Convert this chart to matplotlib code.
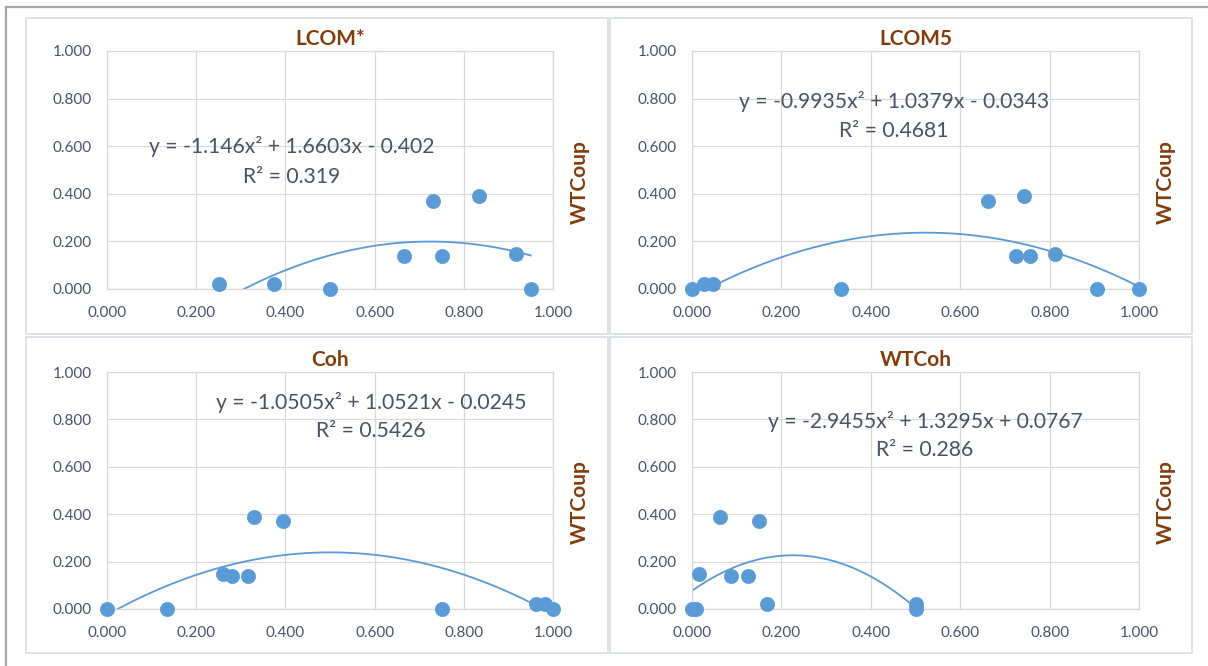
import numpy as np
import matplotlib
matplotlib.use("Agg")
import matplotlib.pyplot as plt
from matplotlib.patches import Rectangle
from matplotlib.lines import Line2D

plt.rcParams['font.family'] = ['Lato', 'DejaVu Sans']

# ---- data ----
titles = ["LCOM*", "LCOM5", "Coh", "WTCoh"]
y_label = "WTCoup"

lcomstar_x = [0.250, 0.375, 0.500, 0.667, 0.730, 0.750, 0.833, 0.917, 0.950]
lcomstar_y = [0.020, 0.020, 0.000, 0.140, 0.370, 0.140, 0.390, 0.147, 0.000]

lcom5_x = [0.000, 0.026, 0.047, 0.333, 0.662, 0.725, 0.742, 0.756, 0.812, 0.906, 1.000]
lcom5_y = [0.000, 0.020, 0.020, 0.000, 0.370, 0.140, 0.390, 0.140, 0.147, 0.000, 0.000]

coh_x = [0.000, 0.135, 0.261, 0.280, 0.317, 0.330, 0.394, 0.750, 0.962, 0.983, 1.000]
coh_y = [0.000, 0.000, 0.149, 0.140, 0.140, 0.390, 0.370, 0.000, 0.020, 0.020, 0.000]

wtcoh_x = [0.000, 0.009, 0.015, 0.063, 0.088, 0.126, 0.149, 0.167, 0.500, 0.500]
wtcoh_y = [0.000, 0.000, 0.149, 0.390, 0.140, 0.140, 0.370, 0.020, 0.020, 0.000]

# polynomial trendline coefficients (a, b, c) for y = a x^2 + b x + c
lcomstar_fit = [-1.146, 1.6603, -0.402]
lcom5_fit = [-0.9935, 1.0379, -0.0343]
coh_fit = [-1.0505, 1.0521, -0.0245]
wtcoh_fit = [-2.9455, 1.3295, 0.0767]

equations = [
    "y = -1.146x\u00b2 + 1.6603x - 0.402",
    "y = -0.9935x\u00b2 + 1.0379x - 0.0343",
    "y = -1.0505x\u00b2 + 1.0521x - 0.0245",
    "y = -2.9455x\u00b2 + 1.3295x + 0.0767",
]
r2_labels = ["R\u00b2 = 0.319", "R\u00b2 = 0.4681", "R\u00b2 = 0.5426", "R\u00b2 = 0.286"]

ticks = [0.0, 0.2, 0.4, 0.6, 0.8, 1.0]
tick_labels = ["0.000", "0.200", "0.400", "0.600", "0.800", "1.000"]

# ---- styling ----
W, H = 1208, 666
BLUE = "#5B9BD5"
GRID = "#D9D9D9"
TXT = "#475467"
BROWN = "#843C0C"
PANEL_EDGE = "#D9DEE5"

fig = plt.figure(figsize=(W / 100, H / 100), dpi=100)

def fx(px):
    return px / W

def fy(py):
    return 1 - py / H

# outer border lines (top and left)
fig.add_artist(Line2D([fx(6), 1.0], [fy(7), fy(7)], color="#A6A6A6", lw=1.6))
fig.add_artist(Line2D([fx(6), fx(6)], [fy(7), 0.0], color="#A6A6A6", lw=1.6))

# panel frames (px boxes: left, top, right, bottom)
frames = [(26, 18, 608, 334), (610, 18, 1192, 334), (26, 337, 608, 653), (610, 337, 1192, 653)]
for (l, t, r, b) in frames:
    fig.add_artist(Rectangle((fx(l), fy(b)), fx(r - l), (b - t) / H, transform=fig.transFigure,
                             fill=False, edgecolor=PANEL_EDGE, lw=1.3))

# axes boxes in px: left, top, right, bottom
axes_px = [(107, 51, 553, 289), (692, 51, 1139, 289), (107, 372, 553, 609), (692, 372, 1139, 609)]
eq_pos = [(0.415, 0.597, 0.471), (0.452, 0.786, 0.664), (0.592, 0.873, 0.751), (0.521, 0.793, 0.671)]

xs = [lcomstar_x, lcom5_x, coh_x, wtcoh_x]
ys = [lcomstar_y, lcom5_y, coh_y, wtcoh_y]
fits = [lcomstar_fit, lcom5_fit, coh_fit, wtcoh_fit]

for i in range(4):
    l, t, r, b = axes_px[i]
    ax = fig.add_axes([fx(l), fy(b), (r - l) / W, (b - t) / H])
    ax.set_xlim(0, 1)
    ax.set_ylim(0, 1)
    ax.set_xticks(ticks)
    ax.set_yticks(ticks)
    ax.set_xticklabels(tick_labels)
    ax.set_yticklabels(tick_labels)
    ax.tick_params(length=0, labelsize=11, labelcolor=TXT)
    ax.tick_params(axis="y", pad=11)
    ax.tick_params(axis="x", pad=12)
    ax.grid(True, color=GRID, lw=0.9)
    ax.set_axisbelow(True)
    for s in ax.spines.values():
        s.set_color(GRID)
        s.set_linewidth(0.9)
    ax.patch.set_alpha(0)

    # trendline over data range
    a, bb, c = fits[i]
    xx = np.linspace(min(xs[i]), max(xs[i]), 400)
    yy = a * xx ** 2 + bb * xx + c
    ax.plot(xx, yy, color=BLUE, lw=1.3, zorder=2)

    ax.scatter(xs[i], ys[i], s=105, color=BLUE, edgecolors=BLUE, linewidths=0.5,
               zorder=3, clip_on=False)

    ax.set_title(titles[i], color=BROWN, fontweight="bold", fontsize=15, pad=4)

    ex, ey, ry = eq_pos[i]
    ax.text(ex, ey, equations[i], transform=ax.transAxes, ha="center", va="center",
            fontsize=15.2, color=TXT)
    ax.text(ex, ry, r2_labels[i], transform=ax.transAxes, ha="center", va="center",
            fontsize=15.2, color=TXT)

    ax.text(1.06, 0.45, y_label, transform=ax.transAxes, rotation=90, ha="center",
            va="center", color=BROWN, fontweight="bold", fontsize=15)

fig.savefig("out.png", dpi=100)
